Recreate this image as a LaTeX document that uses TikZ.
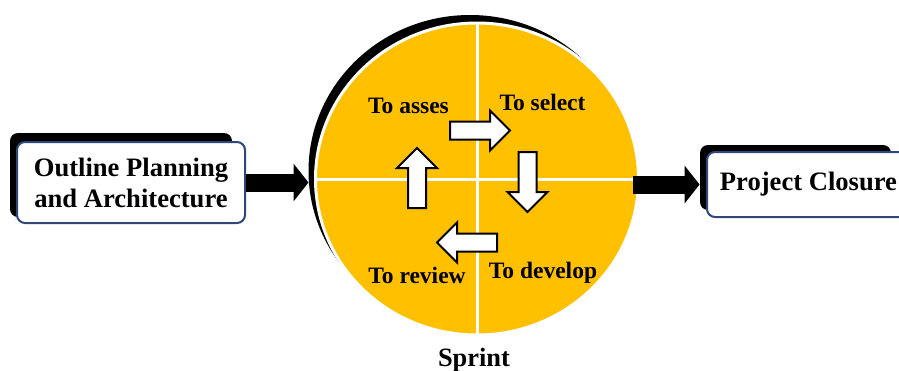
\documentclass[tikz,border=0pt]{standalone}
\usepackage{fontspec}
\setmainfont{Liberation Serif}
\usetikzlibrary{shapes.geometric,arrows.meta}
\definecolor{sprintgold}{RGB}{255,192,0}
\definecolor{boxblue}{RGB}{47,72,120}
\begin{document}
\begin{tikzpicture}[x=0.5pt,y=-0.5pt,
		textbox/.style={draw=boxblue,line width=1pt,fill=white,rounded corners=4pt,align=center,inner sep=0pt,font=\fontsize{13.3}{15.5}\selectfont\bfseries},
		shadowbox/.style={fill=black,rounded corners=4pt,inner sep=0pt},
		disc/.style={ellipse,inner sep=0pt,outer sep=0pt,minimum width=161.5pt,minimum height=156pt},
		bigarrow/.style={line width=9pt,-{Triangle[length=7.5pt,width=18.5pt]}},
		cyclearrow/.style={draw=black,fill=white,line width=1pt,line join=miter},
		steplabel/.style={anchor=base,font=\fontsize{11.75}{14}\selectfont\bfseries}]
		\useasboundingbox (0,0) rectangle (899,370);
		
		\node[shadowbox,minimum width=111pt,minimum height=42pt] (outlineshadow) at (121,175) {};
		\node[textbox,minimum width=114pt,minimum height=40.5pt] (outline) at (131,182.5) {Outline Planning\\and Architecture};
		
		\node[shadowbox,minimum width=95.5pt,minimum height=32.5pt] (closureshadow) at (795.5,177.5) {};
		\node[textbox,minimum width=101.5pt,minimum height=32.5pt] (closure) at (808.5,184.5) {Project Closure};
		
		\node[disc,fill=black] (sprintshadow) at (470,171) {};
		\node[disc,fill=sprintgold,draw=white,line width=1.5pt] (sprint) at (477,179) {};
		\draw[white,line width=1.5pt] (sprint.north) -- (sprint.south);
		\draw[white,line width=1.5pt] (sprint.west) -- (sprint.east);
		
		\draw[bigarrow] (outline.east) -- (outline.east -| sprintshadow.west);
		\draw[bigarrow,shorten <=-3pt] (closure.west -| sprint.east) -- (closure.west -| closureshadow.west);
		
		\foreach \x/\y/\ang in {450/130.5/0, 527.5/152/-90, 497/242.5/180, 417/208/90}
			\draw[cyclearrow,shift={(\x,\y)},rotate=\ang] (0,-9) -- (40,-9) -- (40,-20) -- (60,0) -- (40,20) -- (40,9) -- (0,9) -- cycle;
		
		\node[steplabel] (asses) at (408.5,113) {To asses};
		\node[steplabel] (select) at (542.5,110) {To select};
		\node[steplabel] (review) at (417,283) {To review};
		\node[steplabel] (develop) at (543,278) {To develop};
		\node[anchor=base,font=\fontsize{13.2}{15}\selectfont\bfseries] (sprintlabel) at (474,366) {Sprint};
	\end{tikzpicture}
\end{document}
